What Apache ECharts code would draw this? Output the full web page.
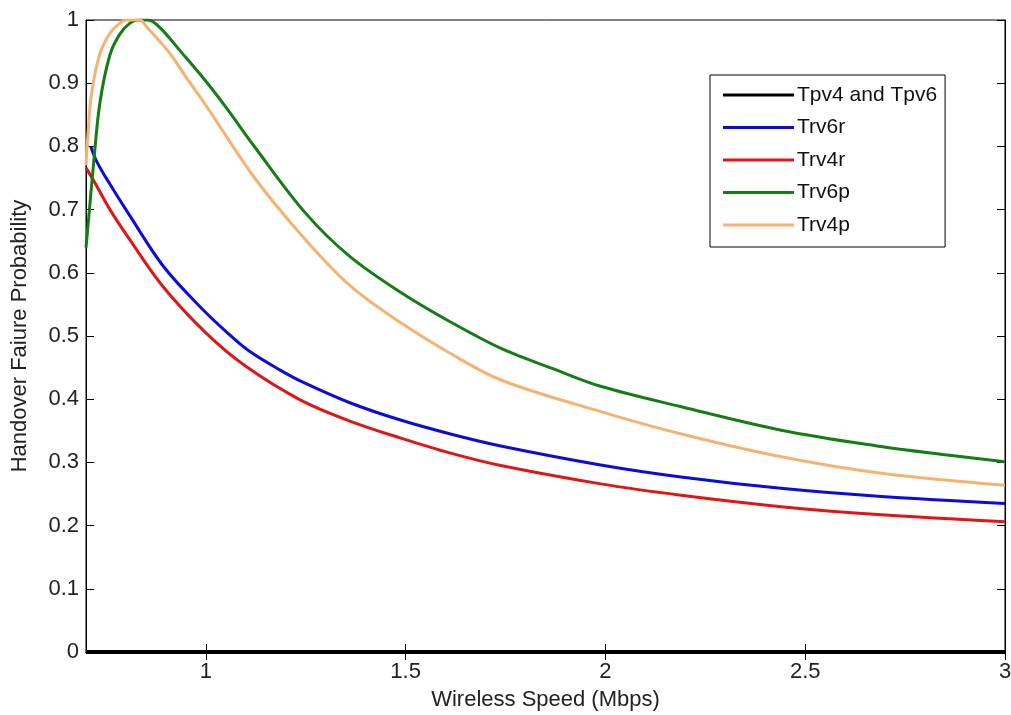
<!DOCTYPE html>
<html>
<head>
<meta charset="utf-8">
<script src="https://cdn.jsdelivr.net/npm/echarts@6/dist/echarts.min.js"></script>
<style>html,body{margin:0;padding:0;background:#fff;}#chart{width:1011px;height:715px;}</style>
</head>
<body>
<div id="chart"></div>
<script>
const seriesNames = ['Tpv4 and Tpv6', 'Trv6r', 'Trv4r', 'Trv6p', 'Trv4p'];
const xTicks = [1, 1.5, 2, 2.5, 3];

const tpv = [[0.7, 0], [3.0, 0]];
const trv6r = [[0.712,0.80],[0.727,0.776],[0.76,0.74],[0.81,0.69],[0.894,0.61],[0.986,0.546],[1.061,0.501],[1.111,0.475],[1.186,0.446],[1.236,0.429],[1.362,0.394],[1.487,0.367],[1.612,0.345],[1.738,0.326],[1.988,0.296],[2.189,0.277],[2.439,0.259],[2.69,0.246],[3.0,0.235]];
const trv4r = [[0.70,0.766],[0.72,0.745],[0.76,0.70],[0.81,0.652],[0.893,0.578],[1.0,0.505],[1.1,0.452],[1.236,0.399],[1.362,0.365],[1.49,0.338],[1.61,0.315],[1.738,0.295],[1.988,0.266],[2.189,0.248],[2.439,0.230],[2.69,0.217],[3.0,0.206]];
const trv6p = [[0.70,0.64],[0.71,0.71],[0.72,0.78],[0.735,0.87],[0.76,0.945],[0.785,0.978],[0.81,0.995],[0.83,1.0],[0.855,1.0],[0.885,0.988],[0.94,0.948],[1.0,0.903],[1.05,0.862],[1.12,0.801],[1.25,0.694],[1.36,0.626],[1.49,0.568],[1.61,0.523],[1.74,0.480],[1.87,0.448],[1.99,0.420],[2.19,0.388],[2.44,0.351],[2.69,0.325],[2.85,0.312],[3.0,0.301]];
const trv4p = [[0.70,0.77],[0.705,0.82],[0.714,0.884],[0.735,0.947],[0.76,0.979],[0.785,0.995],[0.80,1.0],[0.835,1.0],[0.852,0.989],[0.91,0.947],[0.952,0.908],[1.0,0.865],[1.12,0.752],[1.24,0.659],[1.36,0.580],[1.49,0.520],[1.61,0.473],[1.74,0.430],[1.99,0.380],[2.19,0.345],[2.44,0.309],[2.69,0.283],[3.0,0.264]];

const colors = ['#000000', '#0b0bdc', '#e01515', '#147d14', '#f6b272'];
const dataList = [tpv, trv6r, trv4r, trv6p, trv4p];
const FONT = 'Liberation Sans, Arial, sans-serif';

const chart = echarts.init(document.getElementById('chart'), null, {renderer: 'canvas'});
const series = seriesNames.map((name, i) => ({
  name: name,
  type: 'line',
  data: dataList[i],
  symbol: 'none',
  smooth: i === 0 ? false : 0.35,
  clip: i !== 0,
  z: i === 0 ? 5 : 3,
  lineStyle: {color: colors[i], width: i === 0 ? 4 : 3},
  itemStyle: {color: colors[i]}
}));

const axisCommon = {
  axisLine: {show: true, lineStyle: {color: '#000', width: 1}},
  splitLine: {show: false}
};

chart.setOption({
  animation: false,
  backgroundColor: '#fff',
  grid: {left: 86, right: 6, top: 20, bottom: 63, outerBoundsMode: 'none', containLabel: false, show: true, borderColor: '#000', borderWidth: 1, backgroundColor: 'transparent'},
  legend: {
    orient: 'vertical',
    left: 710,
    top: 75,
    backgroundColor: '#fff',
    borderColor: '#000',
    borderWidth: 1,
    padding: [9, 8, 11, 13],
    icon: 'rect',
    itemWidth: 71,
    itemHeight: 3,
    itemGap: 10.5,
    textStyle: {fontFamily: FONT, fontSize: 21, color: '#111', lineHeight: 22, padding: [0, 0, 0, -2]},
    data: seriesNames
  },
  xAxis: [{
    type: 'value', min: 0.7, max: 3,
    ...axisCommon,
    name: 'Wireless Speed (Mbps)', nameLocation: 'middle', nameGap: 37,
    nameTextStyle: {fontFamily: FONT, fontSize: 22, color: '#222'},
    axisTick: {show: true, inside: true, length: 8, customValues: xTicks, lineStyle: {color: '#000'}},
    axisLabel: {fontFamily: FONT, fontSize: 22, color: '#222', margin: 9, customValues: xTicks}
  }, {
    type: 'value', min: 0.7, max: 3, position: 'top',
    ...axisCommon,
    axisTick: {show: true, inside: true, length: 8, customValues: xTicks, lineStyle: {color: '#000'}},
    axisLabel: {show: false}
  }],
  yAxis: [{
    type: 'value', min: 0, max: 1, interval: 0.1,
    ...axisCommon,
    name: 'Handover Faiure Probability', nameLocation: 'middle', nameGap: 55,
    nameTextStyle: {fontFamily: FONT, fontSize: 22, color: '#222'},
    axisTick: {show: true, inside: true, length: 8, lineStyle: {color: '#000'}},
    axisLabel: {fontFamily: FONT, fontSize: 22, color: '#222', margin: 7}
  }, {
    type: 'value', min: 0, max: 1, interval: 0.1, position: 'right',
    ...axisCommon,
    axisTick: {show: true, inside: true, length: 8, lineStyle: {color: '#000'}},
    axisLabel: {show: false}
  }],
  series: series
});
</script>
</body>
</html>
